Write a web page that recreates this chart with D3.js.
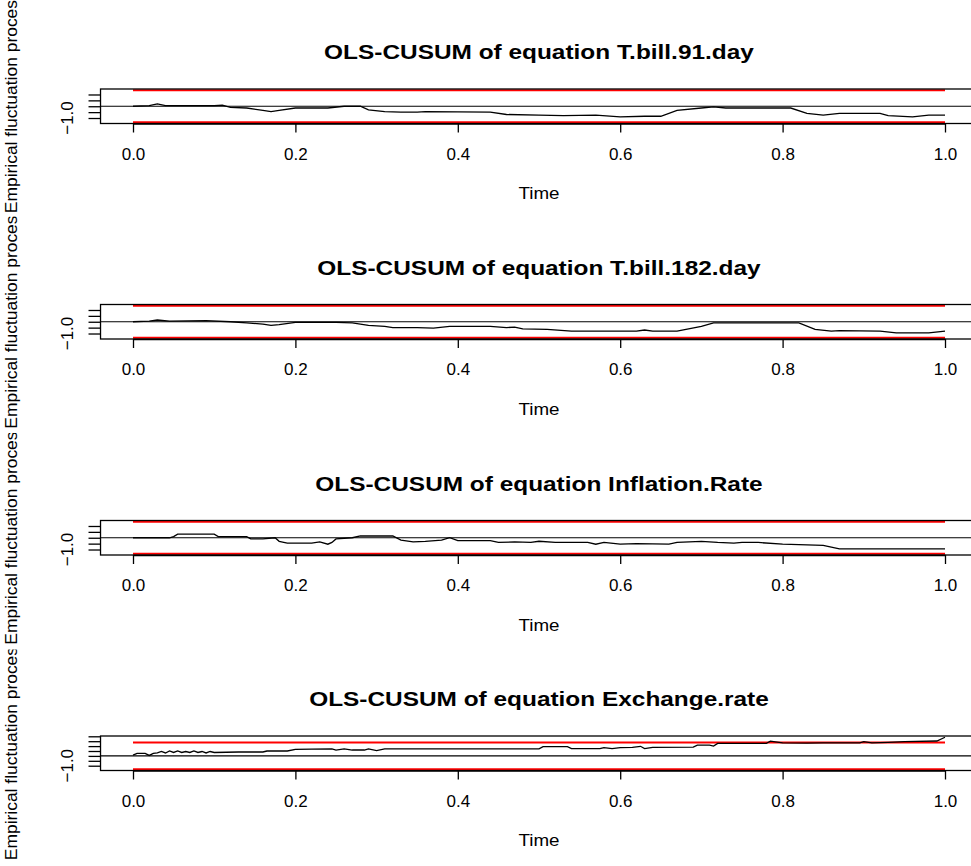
<!DOCTYPE html>
<html>
<head>
<meta charset="utf-8">
<script src="https://cdn.jsdelivr.net/npm/d3@7"></script>
<style>
body { margin: 0; background: #fff; }
</style>
</head>
<body>
<div id="chart"></div>
<script>
// four OLS-CUSUM panels
var titles = ["OLS-CUSUM of equation T.bill.91.day", "OLS-CUSUM of equation T.bill.182.day",
  "OLS-CUSUM of equation Inflation.Rate", "OLS-CUSUM of equation Exchange.rate"];

var time91 = [0, 0.02, 0.03, 0.04, 0.1, 0.11, 0.12, 0.14, 0.16, 0.17, 0.18, 0.2, 0.24, 0.26, 0.28, 0.29,
  0.31, 0.33, 0.35, 0.36, 0.44, 0.46, 0.5, 0.53, 0.57, 0.6, 0.63, 0.65, 0.67, 0.7, 0.715, 0.73, 0.81,
  0.83, 0.85, 0.87, 0.92, 0.93, 0.96, 0.98, 1.0];
var cusum91 = [0, 0.05, 0.2, 0.05, 0.05, 0.1, -0.1, -0.15, -0.35, -0.45, -0.35, -0.15, -0.15, 0, 0, -0.3,
  -0.45, -0.5, -0.5, -0.45, -0.5, -0.7, -0.75, -0.8, -0.75, -0.9, -0.85, -0.85, -0.35, -0.15, -0.05, -0.15, -0.15,
  -0.6, -0.75, -0.6, -0.6, -0.8, -0.9, -0.75, -0.75];

var time182 = [0, 0.02, 0.03, 0.045, 0.09, 0.12, 0.14, 0.16, 0.17, 0.18, 0.2, 0.25, 0.27, 0.29, 0.31, 0.32,
  0.35, 0.37, 0.39, 0.44, 0.46, 0.47, 0.48, 0.51, 0.54, 0.62, 0.63, 0.64, 0.67, 0.7, 0.715, 0.82, 0.84,
  0.86, 0.87, 0.92, 0.94, 0.98, 1.0];
var cusum182 = [0, 0.05, 0.15, 0.05, 0.1, 0, -0.1, -0.2, -0.3, -0.25, -0.05, -0.05, -0.1, -0.3, -0.4, -0.5,
  -0.5, -0.55, -0.4, -0.4, -0.5, -0.45, -0.6, -0.65, -0.8, -0.8, -0.7, -0.8, -0.8, -0.4, -0.1, -0.1, -0.65,
  -0.8, -0.75, -0.8, -0.95, -0.95, -0.8];

var timeInfl = [0, 0.045, 0.05, 0.055, 0.1, 0.105, 0.14, 0.145, 0.16, 0.175, 0.18, 0.19, 0.22, 0.23, 0.24,
  0.245, 0.25, 0.27, 0.28, 0.3, 0.32, 0.33, 0.345, 0.36, 0.38, 0.39, 0.4, 0.44, 0.45, 0.47, 0.49, 0.5, 0.52,
  0.56, 0.57, 0.58, 0.6, 0.62, 0.66, 0.67, 0.7, 0.72, 0.74, 0.75, 0.77, 0.8, 0.85, 0.86, 0.87, 1.0];
var cusumInfl = [0, 0, 0.1, 0.3, 0.3, 0.1, 0.1, -0.1, -0.1, 0, -0.3, -0.45, -0.45, -0.35, -0.55,
  -0.4, -0.1, 0, 0.15, 0.15, 0.15, -0.2, -0.35, -0.3, -0.2, 0, -0.25, -0.25, -0.4, -0.35, -0.4, -0.3, -0.4,
  -0.4, -0.55, -0.4, -0.55, -0.5, -0.55, -0.4, -0.3, -0.4, -0.45, -0.4, -0.4, -0.55, -0.65, -0.8, -0.95, -0.95];

var timeExch = [0, 0.005, 0.015, 0.02, 0.025, 0.03, 0.035, 0.04, 0.045, 0.05, 0.055, 0.06, 0.065, 0.07,
  0.075, 0.08, 0.085, 0.09, 0.095, 0.1, 0.13, 0.16, 0.165, 0.19, 0.2, 0.22, 0.245, 0.25, 0.26, 0.27, 0.285,
  0.29, 0.3, 0.31, 0.5, 0.505, 0.535, 0.54, 0.575, 0.58, 0.59, 0.6, 0.615, 0.625, 0.63, 0.64, 0.69, 0.695,
  0.71, 0.715, 0.72, 0.78, 0.785, 0.8, 0.83, 0.85, 0.895, 0.9, 0.91, 0.93, 0.95, 0.99, 1.0];
var cusumExch = [0.07, 0.25, 0.25, 0.05, 0.25, 0.3, 0.45, 0.3, 0.5, 0.35, 0.5, 0.35, 0.45, 0.35,
  0.5, 0.35, 0.45, 0.3, 0.45, 0.35, 0.4, 0.4, 0.5, 0.5, 0.67, 0.7, 0.72, 0.6, 0.72, 0.6, 0.6,
  0.72, 0.55, 0.72, 0.72, 0.95, 0.95, 0.75, 0.75, 0.85, 0.75, 0.85, 0.88, 0.98, 0.75, 0.88, 0.9, 1.1,
  1.1, 1.0, 1.28, 1.28, 1.5, 1.32, 1.3, 1.32, 1.32, 1.45, 1.32, 1.38, 1.45, 1.52, 1.9];

var xTicks = [0, 0.2, 0.4, 0.6, 0.8, 1.0];
var yTicksSmall = [-1, -0.5, 0, 0.5, 1];
var yTicksLarge = [-1, -0.5, 0, 0.5, 1, 1.5, 2];
var boundary = 1.358;
var ylab = "Empirical fluctuation process";
var xlab = "Time";

var panels = [
  { title: titles[0], t: time91, v: cusum91, yt: yTicksSmall },
  { title: titles[1], t: time182, v: cusum182, yt: yTicksSmall },
  { title: titles[2], t: timeInfl, v: cusumInfl, yt: yTicksSmall },
  { title: titles[3], t: timeExch, v: cusumExch, yt: yTicksLarge }
];

var W = 971, H = 866;
var figH = 216.5;
var boxTops = [89, 304.5, 520.5, 736];
var boxH = 34.5;

var svg = d3.select("#chart").append("svg")
  .attr("width", W).attr("height", H)
  .style("font-family", "Arial, 'Liberation Sans', sans-serif");

var defs = svg.append("defs");

var x = d3.scaleLinear().domain([0, 1]).range([133, 945]);
var boxLeft = x(-0.04), boxRight = x(1.04);

panels.forEach(function(p, i) {
  var figTop = i * figH;
  var bt = boxTops[i], bb = bt + boxH;
  var all = p.v.concat([-boundary, boundary]);
  var lo = d3.min(all), hi = d3.max(all), r = hi - lo;
  var y = d3.scaleLinear().domain([lo - 0.04 * r, hi + 0.04 * r]).range([bb, bt]);

  defs.append("clipPath").attr("id", "fig" + i)
    .append("rect").attr("x", 0).attr("y", figTop).attr("width", W).attr("height", figH);

  var g = svg.append("g");

  // title (the picture is stretched a bit sideways)
  var tt = g.append("text")
    .attr("x", (boxLeft + boxRight) / 2).attr("y", bt - 30)
    .attr("text-anchor", "middle")
    .style("font-size", "20px").style("font-weight", "bold")
    .text(p.title);
  tt.attr("textLength", tt.node().getComputedTextLength() * 1.22).attr("lengthAdjust", "spacingAndGlyphs");

  // bounds and zero line
  var line = d3.line().x(function(d) { return x(d[0]); }).y(function(d) { return y(d[1]); });
  [boundary, -boundary].forEach(function(b) {
    g.append("path").datum([[0, b], [1, b]])
      .attr("d", line).attr("fill", "none").attr("stroke", "red").attr("stroke-width", 2);
  });
  g.append("line")
    .attr("x1", boxLeft).attr("x2", boxRight).attr("y1", y(0)).attr("y2", y(0))
    .attr("stroke", "#000").attr("stroke-width", 1.2);

  // process
  g.append("path").datum(d3.zip(p.t, p.v))
    .attr("d", line).attr("fill", "none").attr("stroke", "#000").attr("stroke-width", 1.3);

  // box
  g.append("rect")
    .attr("x", boxLeft).attr("y", bt).attr("width", boxRight - boxLeft).attr("height", boxH)
    .attr("fill", "none").attr("stroke", "#000").attr("stroke-width", 1.3);

  // x axis
  var xa = g.append("g").attr("transform", "translate(0," + bb + ")")
    .call(d3.axisBottom(x).tickValues(xTicks).tickSize(9).tickSizeOuter(0).tickPadding(15)
      .tickFormat(d3.format(".1f")));
  xa.select(".domain").attr("stroke-width", 1.3);
  xa.selectAll(".tick line").attr("stroke-width", 1.3);
  xa.selectAll(".tick text").style("font-size", "17px").attr("fill", "#000");
  xa.attr("font-family", null).attr("font-size", null);

  // y axis (ticks only, labels placed like R: drop overlapping ones)
  var ya = g.append("g").attr("transform", "translate(" + boxLeft + ",0)")
    .call(d3.axisLeft(y).tickValues(p.yt).tickSize(12).tickSizeOuter(0).tickFormat(""));
  ya.select(".domain").remove();
  ya.selectAll(".tick line").attr("stroke-width", 1.3);

  var lastEdge = null;
  p.yt.forEach(function(v) {
    var t = g.append("text")
      .attr("transform", "translate(73," + y(v) + ") rotate(-90)")
      .attr("text-anchor", "middle")
      .style("font-size", "17px")
      .text(d3.format(".1f")(v));
    var w = t.node().getComputedTextLength();
    var lowEdge = y(v) + w / 2;
    if (lastEdge !== null && lowEdge > lastEdge - 4) { t.remove(); return; }
    lastEdge = y(v) - w / 2;
  });

  // x label
  g.append("text")
    .attr("x", (boxLeft + boxRight) / 2).attr("y", bt + 110)
    .attr("text-anchor", "middle").style("font-size", "16px")
    .attr("textLength", 41).attr("lengthAdjust", "spacingAndGlyphs")
    .text(xlab);

  // y label, clipped to its figure region like R does
  g.append("g").attr("clip-path", "url(#fig" + i + ")")
    .append("text")
    .attr("transform", "translate(17," + (bt + boxH / 2 - 4) + ") rotate(-90)")
    .attr("text-anchor", "middle").style("font-size", "16px")
    .attr("textLength", 222).attr("lengthAdjust", "spacingAndGlyphs")
    .text(ylab);
});
</script>
</body>
</html>
